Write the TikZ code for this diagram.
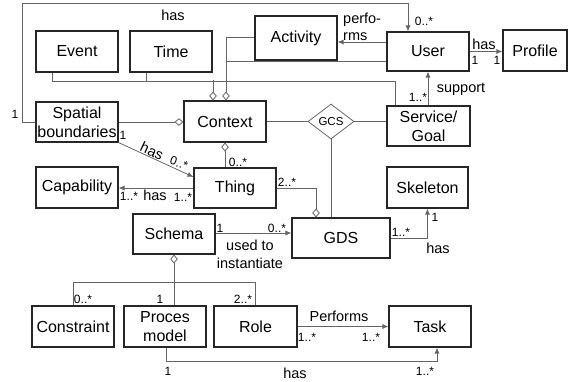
\documentclass[tikz,border=0pt]{standalone}
\usepackage{fontspec}
\setmainfont{Liberation Sans}
\usetikzlibrary{arrows.meta,shapes.geometric}
\begin{document}
\begin{tikzpicture}[x=1pt,y=-1pt,
 box/.style={draw=black!85,line width=1.1pt,minimum width=82pt,minimum height=41pt,inner sep=0pt,align=center,font=\fontsize{16}{19}\selectfont},
 conn/.style={draw=black!60,line width=0.8pt},
 arr/.style={-{Latex[length=6pt,width=5pt]}},
 agg/.style={{Diamond[open,length=9pt,width=7.5pt]}-},
 lbl/.style={font=\fontsize{14.5}{18}\selectfont,inner sep=0pt,align=center},
 mul/.style={font=\fontsize{12}{14}\selectfont,inner sep=0pt}]
\useasboundingbox (0,0) rectangle (571,381);
% boxes
\node[box] (event) at (77,51.5) {Event};
\node[box] (time) at (171,51.5) {Time};
\node[box,minimum height=44pt] (activity) at (296,38) {Activity};
\node[box,minimum height=39pt] (user) at (428,51.5) {User};
\node[box,minimum width=64pt] (profile) at (535,50.5) {Profile};
\node[box,minimum height=40pt] (spatial) at (77,122) {Spatial\\boundaries};
\node[box] (context) at (225,121.5) {Context};
\node[diamond,draw=black!60,line width=0.8pt,minimum width=46pt,minimum height=35pt,inner sep=0pt,aspect=1.31,font=\fontsize{11.5}{13}\selectfont] (gcs) at (331,121.5) {GCS};
\node[box,minimum width=83pt,minimum height=40pt] (service) at (428.5,126) {Service/\\Goal};
\node[box] (capability) at (77,187.5) {Capability};
\node[box,minimum height=40pt] (thing) at (235,188) {Thing};
\node[box,minimum width=81pt] (skeleton) at (427.5,187.5) {Skeleton};
\node[box,minimum height=40pt] (schema) at (174,234) {Schema};
\node[box,minimum width=98pt,minimum height=40pt] (gds) at (341,238) {GDS};
\node[box] (constraint) at (73,326.5) {Constraint};
\node[box] (proces) at (165,326.5) {Proces\\model};
\node[box,minimum width=83pt] (role) at (255.5,326.5) {Role};
\node[box] (task) at (430,326.5) {Task};

% connectors
\draw[conn,arr] (spatial.west) -- ++(-13,0) |- ([xshift=-20pt,yshift=28pt]user.north) -- ([xshift=-20pt]user.north);
\draw[conn] ([xshift=-25pt]event.south) -- ++(0,9) -| ([xshift=-33.5pt]service.north);
\draw[conn] ([xshift=-25pt]time.south) -- ++(0,9);
\draw[conn,agg] ([xshift=-12pt]context.north) -- ++(0,-20);
\draw[conn,agg] ([xshift=1pt]context.north) |- ([yshift=1pt]activity.west);
\draw[conn] ([yshift=-9.5pt]user.west) -| ([xshift=1pt,yshift=9pt]context.north);
\coordinate (pa) at ([yshift=9.5pt]user.west);
\draw[conn,arr] (pa) -- (activity.east |- pa);
\draw[conn,arr] (user.east) -- (profile.west |- user.east);
\draw[conn,arr] ([xshift=-0.5pt]service.north) -- (user.south);
\draw[conn,-{Diamond[open,length=9pt,width=7.5pt]}] (spatial.east) -- (context.west |- spatial.east);
\draw[conn] (context.east) -- (gcs.west);
\draw[conn] (gcs.east) -- (service.west |- gcs.east);
\draw[conn] (gcs.south) -- (gcs.south |- gds.north);
\draw[conn,agg] (context.south) -- (context.south |- thing.north);
\draw[conn,arr] (spatial.south east) -- ([yshift=11pt]thing.west);
\draw[conn,arr] (thing.west) -- (capability.east |- thing.west);
\draw[conn,-{Diamond[open,length=9pt,width=7.5pt]}] (thing.east) -| ([xshift=-25pt]gds.north);
\coordinate (ps) at ([yshift=1pt]schema.east);
\draw[conn,arr] (ps) -- (gds.west |- ps);
\draw[conn,arr] (gds.east) -| (skeleton.south);
\draw[conn,agg] (schema.south) -- (schema.south |- proces.north);
\draw[conn] (constraint.north) -- ++(0,-23) -| (role.north);
\draw[conn,arr] (role.east) -- (task.west);
\draw[conn,arr] ([xshift=1pt]proces.south) -- ++(0,13.5) -| ([xshift=7pt]task.south);

% labels
\node[lbl] (l1) at (173,15) {has};
\node[mul] (m1) at (15,114) {1};
\node[mul] (m2) at (424,21) {0..*};
\node[lbl,anchor=west,align=left,font=\fontsize{14.5}{16.5}\selectfont] (l2) at (343,27) {perfo-\\rms};
\node[lbl] (l3) at (484,44) {has};
\node[mul] (m3) at (475,60) {1};
\node[mul] (m4) at (497,60) {1};
\node[lbl] (l4) at (461,89) {support};
\node[mul] (m5) at (418,97) {1..*};
\node[mul] (m6) at (123,135) {1};
\node[lbl,rotate=-25] (l5) at (152,151) {has};
\node[mul,rotate=-20] (m7) at (179,163) {0..*};
\node[mul] (m8) at (238,162) {0..*};
\node[mul] (m9) at (129,196) {1..*};
\node[lbl] (l6) at (155,195) {has};
\node[mul] (m10) at (183,197) {1..*};
\node[mul] (m11) at (287,182) {2..*};
\node[mul] (m12) at (220,228) {1};
\node[mul] (m13) at (277,228) {0..*};
\node[lbl,font=\fontsize{14.5}{18}\selectfont] (l7) at (250,254) {used to\\instantiate};
\node[mul] (m14) at (401,232) {1..*};
\node[mul] (m15) at (435,217) {1};
\node[lbl] (l8) at (438,248) {has};
\node[mul] (m16) at (83,299) {0..*};
\node[mul] (m17) at (160,299) {1};
\node[mul] (m18) at (243,299) {2..*};
\node[lbl] (l9) at (339,316) {Performs};
\node[mul] (m19) at (307,337) {1..*};
\node[mul] (m20) at (371,337) {1..*};
\node[lbl] (l10) at (295,373) {has};
\node[mul] (m21) at (168,371) {1};
\node[mul] (m22) at (425,371) {1..*};
\end{tikzpicture}
\end{document}
